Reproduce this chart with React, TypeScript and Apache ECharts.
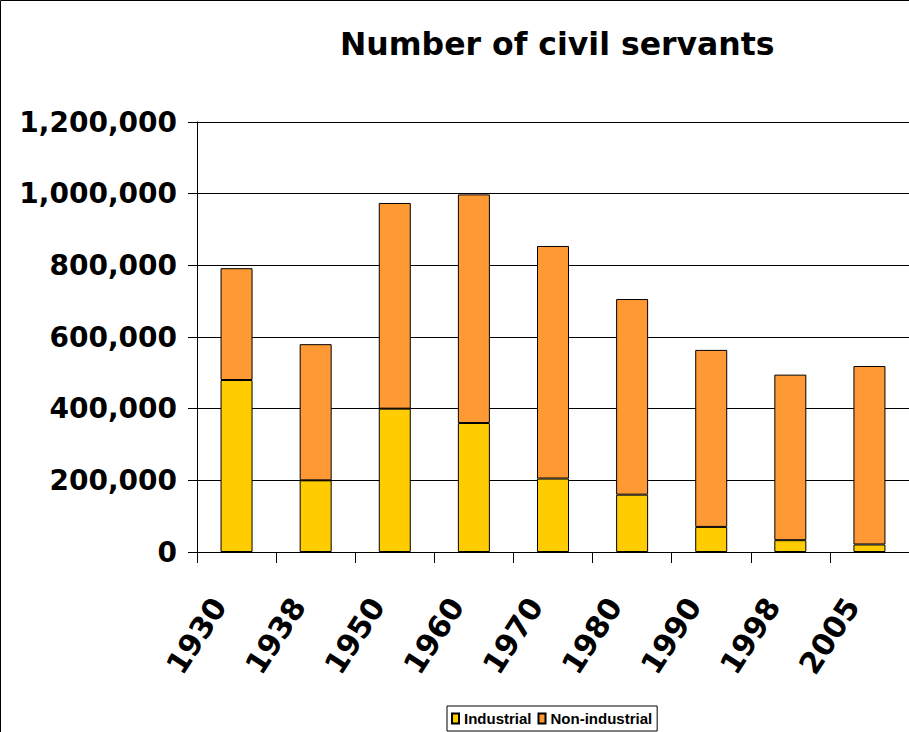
import React, { useEffect, useRef } from "react";
import * as echarts from "echarts";

const years = ["1930", "1938", "1950", "1960", "1970", "1980", "1990", "1998", "2005"];
const industrial = [480000, 200000, 400000, 360000, 205000, 160000, 70000, 33000, 21000];
const nonIndustrial = [312000, 380000, 574000, 638000, 649000, 546000, 494000, 462000, 498000];
const titleText = "Number of civil servants";

export default function App() {
  const ref = useRef<HTMLDivElement>(null);
  useEffect(() => {
    if (!ref.current) return;
    const chart = echarts.init(ref.current, null, { renderer: "svg" });
    chart.setOption({
      animation: false,
      backgroundColor: "#ffffff",
      title: {
        text: titleText,
        left: 335,
        top: 23,
        textStyle: { fontFamily: "DejaVu Sans", fontWeight: "bold", fontSize: 31.5, color: "#000" },
      },
      graphic: [
        {
          type: "rect",
          shape: { x: 0.5, y: 0.5, width: 930, height: 760 },
          style: { fill: "none", stroke: "#000", lineWidth: 1 },
          silent: true,
        },
      ],
      legend: {
        left: 447,
        bottom: 1,
        itemWidth: 7,
        itemHeight: 10,
        itemGap: 6,
        padding: [4, 5, 4, 4],
        borderColor: "#000",
        borderWidth: 1,
        icon: "rect",
        textStyle: { fontFamily: "Liberation Sans", fontWeight: "bold", fontSize: 15, color: "#000", lineHeight: 17 },
        data: ["Industrial", "Non-industrial"],
      },
      grid: { left: 197, right: 0, top: 122, bottom: 180, containLabel: false, outerBoundsMode: "none" },
      xAxis: {
        type: "category",
        data: years,
        axisLine: { lineStyle: { color: "#000", width: 1 } },
        axisTick: { show: true, length: 11, lineStyle: { color: "#000" } },
        axisLabel: {
          rotate: 57,
          margin: 22,
          padding: [0, 32, 0, 0],
          fontFamily: "DejaVu Sans",
          fontWeight: "bold",
          fontSize: 30,
          color: "#000",
        },
      },
      yAxis: {
        type: "value",
        min: 0,
        max: 1200000,
        interval: 200000,
        axisLine: { show: true, lineStyle: { color: "#000", width: 1 } },
        axisTick: { show: true, length: 9, lineStyle: { color: "#000" } },
        splitLine: { lineStyle: { color: "#000", width: 1 } },
        axisLabel: {
          margin: 20,
          fontFamily: "DejaVu Sans",
          fontWeight: "bold",
          fontSize: 28,
          color: "#000",
          formatter: (v: number) => v.toLocaleString("en-US"),
        },
      },
      series: [
        {
          name: "Industrial",
          type: "bar",
          stack: "total",
          data: industrial,
          barWidth: 32,
          itemStyle: { color: "#FFCC00", borderColor: "#000", borderWidth: 1 },
        },
        {
          name: "Non-industrial",
          type: "bar",
          stack: "total",
          data: nonIndustrial,
          barWidth: 32,
          itemStyle: { color: "#FF9933", borderColor: "#000", borderWidth: 1 },
        },
      ],
    });
    return () => chart.dispose();
  }, []);
  return (
    <div
      ref={ref}
      style={{ position: "fixed", left: 0, top: 0, width: 909, height: 732 }}
    />
  );
}
